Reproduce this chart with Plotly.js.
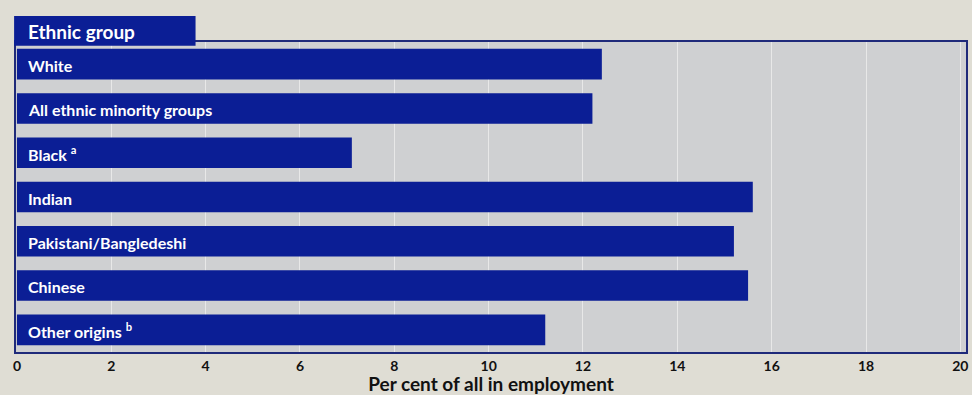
<!DOCTYPE html>
<html>
<head>
<meta charset="utf-8">
<script src="https://cdn.plot.ly/plotly-3.0.1.min.js"></script>
<style>html,body{margin:0;padding:0;background:#dfddd4;}#chart{width:972px;height:395px;}</style>
</head>
<body>
<div id="chart"></div>
<script>
var categories = ["White", "All ethnic minority groups", "Black", "Indian", "Pakistani/Bangledeshi", "Chinese", "Other origins"];
var labels = ["White", "All ethnic minority groups", "Black <sup>a</sup>", "Indian", "Pakistani/Bangledeshi", "Chinese", "Other origins <sup>b</sup>"];
var values = [12.4, 12.2, 7.1, 15.6, 15.2, 15.5, 11.2];
var tickVals = [0, 2, 4, 6, 8, 10, 12, 14, 16, 18, 20];
var tickText = ["0", "2", "4", "6", "8", "10", "12", "14", "16", "18", "20"];

var navy = "#0b1e95";
var fontFam = "Lato, 'Open Sans', sans-serif";
var trace = {
  type: "bar",
  orientation: "h",
  y: categories,
  x: values,
  marker: {color: navy, line: {width: 0}},
  hoverinfo: "x+y"
};

var annotations = categories.map(function (c, i) {
  return {
    x: 0, y: c, xref: "x", yref: "y",
    text: labels[i], showarrow: false,
    xanchor: "left", yanchor: "middle", xshift: 9, yshift: -1,
    font: {family: fontFam, size: 16, color: "#ffffff", weight: "bold"}
  };
});
annotations.push({
  x: 0, y: 1.035, xref: "paper", yref: "paper",
  text: "Ethnic group", showarrow: false,
  xanchor: "left", yanchor: "middle", xshift: 10,
  font: {family: fontFam, size: 19, color: "#ffffff", weight: "bold"}
});

var layout = {
  width: 972, height: 395,
  margin: {l: 16, r: 6, t: 42, b: 43},
  paper_bgcolor: "#dfddd4",
  plot_bgcolor: "#cfd0d2",
  showlegend: false,
  bargap: 0.31,
  xaxis: {
    range: [-0.02, 20.12],
    tickvals: tickVals, ticktext: tickText,
    ticklabeloverflow: "allow",
    showgrid: true, gridcolor: "#e8e8e8", gridwidth: 1,
    zeroline: false, showline: true, linecolor: "#1f2a7a", linewidth: 2, mirror: true,
    ticks: "", ticklen: 0,
    tickfont: {family: fontFam, size: 14, color: "#111111", weight: "bold"},
    title: {text: "Per cent of all in employment", standoff: 2,
      font: {family: fontFam, size: 19, color: "#111111", weight: "bold"}}
  },
  yaxis: {
    autorange: "reversed",
    showticklabels: false, showgrid: false, zeroline: false,
    showline: true, linecolor: "#1f2a7a", linewidth: 2, mirror: true, ticks: ""
  },
  shapes: [{
    type: "rect", xref: "paper", yref: "paper",
    x0: -0.002, x1: 0.189, y0: 0.988, y1: 1.084,
    fillcolor: navy, line: {width: 0}, layer: "above"
  }],
  annotations: annotations
};

Plotly.newPlot("chart", [trace], layout, {displayModeBar: false, staticPlot: true});
</script>
</body>
</html>
